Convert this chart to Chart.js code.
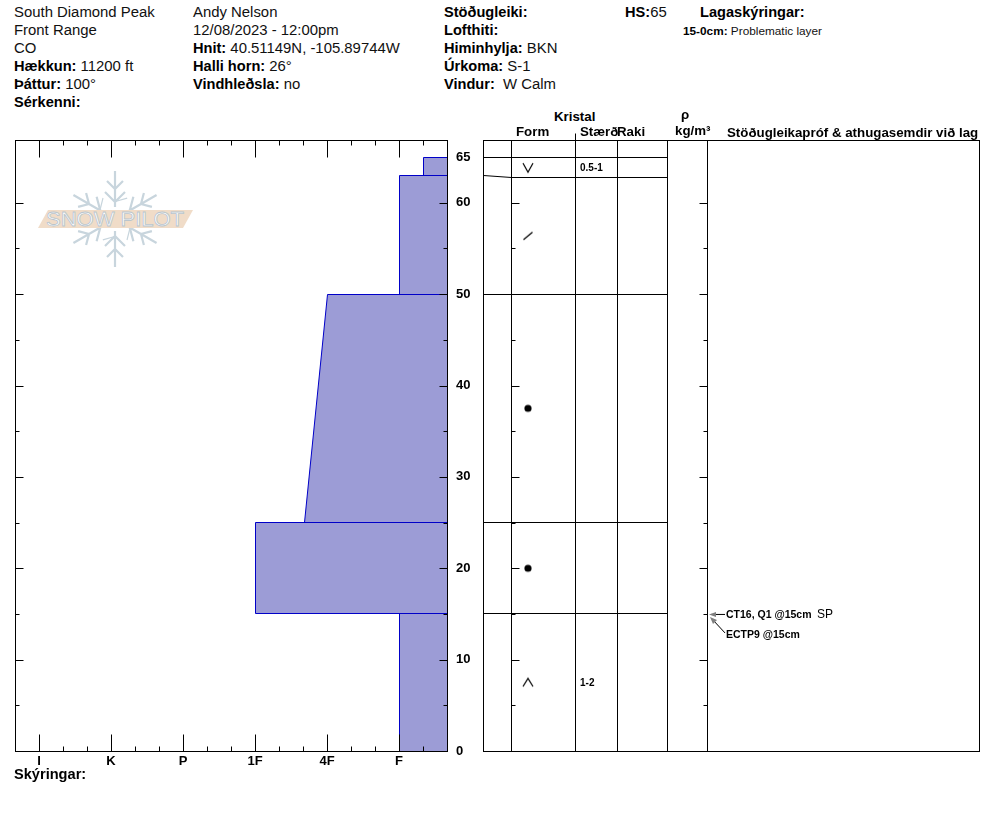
<!DOCTYPE html>
<html>
<head>
<meta charset="utf-8">
<title>Snow Pilot</title>
<script src="https://cdn.jsdelivr.net/npm/chart.js@4"></script>
<style>
  html, body { margin: 0; padding: 0; background: #fff; }
  #page { position: relative; width: 994px; height: 840px; overflow: hidden; font-family: "Liberation Sans", Arial, sans-serif; color: #111; }
  .t { position: absolute; white-space: nowrap; font-size: 14.9px; line-height: 18px; }
  .t b { color: #000; font-size: 14.6px; }
  .h { font-size: 13.3px; font-weight: bold; line-height: 14px; color: #000; }
  .t.s { font-size: 11.8px; line-height: 12px; }
  .t.s b { font-size: 11.8px; }
  canvas { position: absolute; }
  #logo { position: absolute; left: 30px; top: 165px; }
</style>
</head>
<body>
<div id="page">
  <svg id="logo" width="175" height="110" viewBox="30 165 175 110">
    <g id="flake" stroke="#c8d5dd" stroke-width="2.2" fill="none"></g>
    <polygon points="38,228 48,210 193,210 183,228" fill="#f0dcc8"/>
    <text x="46" y="226" font-family="Liberation Sans" font-size="20" textLength="138" lengthAdjust="spacingAndGlyphs" fill="#ffffff" stroke="#b9c5cd" stroke-width="0.8">SNOW PILOT</text>
  </svg>
  <canvas id="profil" width="480" height="650" style="left:0;top:130px;width:480px;height:650px"></canvas>
  <canvas id="lag" width="515" height="650" style="left:474px;top:130px;width:515px;height:650px"></canvas>
  <div id="texts"></div>
</div>

<script>
// lagaskipting, neðan frá og upp
const layerBottom = [0, 15, 25, 50, 63];
const layerTop = [15, 25, 50, 63, 65];
const hardnessAtBottom = [5, 3, 3.68, 5, 5.33];
const hardnessAtTop = [5, 3, 4, 5, 5.33];
const grainForm = ["hat", "dot", "dot", "slash", "vee"];
const grainSize = ["1-2", "", "", "", "0.5-1"];
// efri mörk laga eins og þau eru teiknuð í töflunni
const drawnTop = [15, 25, 50, 62.8, 65];

const hardnessLabels = ["I", "K", "P", "1F", "4F", "F"];
const depthLabels = [0, 10, 20, 30, 40, 50, 60, 65];
const depthTicks = [5, 10, 15, 20, 25, 30, 35, 40, 45, 50, 55, 60];
const depthMax = 66.87;

const headerLines = [
  [14, 3, "South Diamond Peak"], [14, 21, "Front Range"], [14, 39, "CO"],
  [14, 57, "<b>Hækkun:</b> 11200 ft"], [14, 75, "<b>Þáttur:</b> 100°"], [14, 93, "<b>Sérkenni:</b>"],
  [193, 3, "Andy Nelson"], [193, 21, "12/08/2023 - 12:00pm"], [193, 39, "<b>Hnit:</b> 40.51149N, -105.89744W"],
  [193, 57, "<b>Halli horn:</b> 26°"], [193, 75, "<b>Vindhleðsla:</b> no"],
  [444, 3, "<b>Stöðugleiki:</b>"], [444, 21, "<b>Lofthiti:</b>"], [444, 39, "<b>Himinhylja:</b> BKN"],
  [444, 57, "<b>Úrkoma:</b> S-1"], [444, 75, "<b>Vindur:</b>&nbsp; W Calm"],
  [625, 3, "<b>HS:</b>65"], [700, 3, "<b>Lagaskýringar:</b>"], [14, 765, "<b>Skýringar:</b>"]
];
const columnHeads = [
  [554, 110, "Kristal"], [516, 125, "Form"], [580, 125, "Stærð"], [617, 125, "Raki"],
  [681, 108, "ρ"], [675, 124, "kg/m³"], [727, 126, "Stöðugleikapróf &amp; athugasemdir við lag"]
];

const textBox = document.getElementById("texts");
function addText(cls, x, y, html) {
  const d = document.createElement("div");
  d.className = cls;
  d.style.left = x + "px";
  d.style.top = y + "px";
  d.innerHTML = html;
  textBox.appendChild(d);
}
headerLines.forEach(l => addText("t", l[0], l[1], l[2]));
columnHeads.forEach(l => addText("t h", l[0], l[1], l[2]));
addText("t s", 683, 25, "<b>15-0cm:</b> Problematic layer");

// snjókornið í merkinu
const flake = document.getElementById("flake");
for (let a = 0; a < 360; a += 60) {
  flake.innerHTML += '<g transform="rotate(' + a + ' 115 219)">' +
    '<path d="M115 207V171M107 181L115 189L123 181M105 192L115 202L125 192"/>' +
    '<path d="M103 198L100 210" stroke-width="1.2"/></g>';
}

const black = "#000";

// línur eiga að lenda á heilum punktum, annars verða þær gráar
const snapLines = {
  id: "snapLines",
  afterDatasetsUpdate(chart) {
    chart.data.datasets.forEach((ds, i) => {
      if (!ds.showLine) return;
      chart.getDatasetMeta(i).data.forEach(p => {
        p.y = Math.floor(p.y) + 0.5;
        p.x = Math.round(p.x) + 0.5;
      });
    });
  }
};

// innri merki á ramma, sama á báðum myndum
function inTicks(ctx, x, y, dx, dy) {
  ctx.beginPath();
  ctx.moveTo(x, y);
  ctx.lineTo(x + dx, y + dy);
  ctx.stroke();
}
function tickLen(depth) {
  return depth % 10 === 0 ? 8 : 4;
}

const profileFrame = {
  id: "profileFrame",
  afterDatasetsDraw(chart) {
    const { ctx, chartArea: a, scales: { x, y } } = chart;
    ctx.save();
    ctx.strokeStyle = black;
    ctx.lineWidth = 1;
    ctx.translate(0.5, 0.5);
    ctx.strokeRect(a.left, a.top, a.right - a.left, a.bottom - a.top);
    depthTicks.forEach(d => {
      const py = Math.round(y.getPixelForValue(d));
      inTicks(ctx, a.left, py, tickLen(d), 0);
      inTicks(ctx, a.right, py, -tickLen(d), 0);
    });
    for (let i = 0; i <= 16; i++) {
      const v = i / 3;
      const px = Math.round(x.getPixelForValue(v));
      const len = i % 3 === 0 ? 17 : 5;
      inTicks(ctx, px, a.bottom, 0, -len);
      inTicks(ctx, px, a.top, 0, len);
    }
    // þykkari neðri og vinstri lína
    ctx.beginPath();
    ctx.moveTo(a.left, a.top);
    ctx.lineTo(a.left, a.bottom);
    ctx.lineTo(a.right, a.bottom);
    ctx.stroke();
    ctx.restore();
  }
};

const hardEdge = 5 + 2 / 3;
const outline = [];
layerBottom.forEach((b, i) => {
  outline.push({ x: hardEdge, y: b });
  outline.push({ x: hardnessAtBottom[i], y: b });
  outline.push({ x: hardnessAtTop[i], y: layerTop[i] });
  outline.push({ x: hardEdge, y: layerTop[i] });
});

new Chart(document.getElementById("profil"), {
  type: "scatter",
  data: {
    datasets: [{
      data: outline,
      showLine: true,
      fill: "shape",
      backgroundColor: "#9c9cd6",
      borderColor: "#0000c8",
      borderWidth: 1,
      tension: 0,
      pointRadius: 0
    }]
  },
  options: {
    responsive: false,
    animation: false,
    layout: { padding: { left: 15, top: 10, right: 0, bottom: 0 } },
    plugins: { legend: { display: false }, tooltip: { enabled: false } },
    scales: {
      x: {
        type: "linear",
        min: -1 / 3,
        max: hardEdge,
        border: { display: false },
        grid: { display: false, drawTicks: false },
        afterBuildTicks(s) { s.ticks = hardnessLabels.map((l, i) => ({ value: i })); },
        afterFit(s) {
          s.height = 29;
          s.paddingLeft = 0;
          s.paddingRight = 0;
        },
        ticks: {
          autoSkip: false,
          maxRotation: 0,
          padding: 3,
          color: black,
          font: { family: "Liberation Sans", size: 13, weight: "bold" },
          callback: (v) => hardnessLabels[v]
        }
      },
      y: {
        position: "right",
        min: 0,
        max: depthMax,
        border: { display: false },
        grid: { display: false, drawTicks: false },
        afterBuildTicks(s) { s.ticks = depthLabels.map(v => ({ value: v })); },
        afterFit(s) {
          s.width = 33;
          s.paddingTop = 0;
          s.paddingBottom = 0;
        },
        ticks: {
          autoSkip: false,
          padding: 9,
          color: black,
          font: { family: "Liberation Sans", size: 13, weight: "bold" },
          callback: (v) => String(v)
        }
      }
    }
  },
  plugins: [snapLines, profileFrame]
});

// kornalögun
function glyph(kind) {
  const c = document.createElement("canvas");
  c.width = 16;
  c.height = 16;
  const g = c.getContext("2d");
  g.strokeStyle = black;
  g.fillStyle = black;
  g.lineWidth = 1.2;
  g.beginPath();
  if (kind === "dot") {
    g.arc(8, 8, 3.6, 0, Math.PI * 2);
    g.fill();
    return c;
  }
  if (kind === "hat") { g.moveTo(3, 12); g.lineTo(8, 4); g.lineTo(13, 12); }
  if (kind === "vee") { g.moveTo(3, 4); g.lineTo(8, 13); g.lineTo(13, 4); }
  if (kind === "slash") { g.moveTo(3.5, 12); g.lineTo(12.5, 4.5); }
  g.stroke();
  return c;
}

// x-ásinn er mældur frá vinstri brún töflunnar
const columnEdges = [28, 92, 134, 184, 224];
const ruleEnd = 184;
const formX = 45;
const sizeX = 97;

const mid = (i, tops) => ((i === 0 ? 0 : tops[i - 1]) + tops[i]) / 2;

const ruleSets = layerTop.map((d, i) => ({
  data: [{ x: 0, y: d }, { x: 28, y: drawnTop[i] }, { x: ruleEnd, y: drawnTop[i] }],
  showLine: true,
  borderColor: black,
  borderWidth: 1,
  tension: 0,
  pointRadius: 0
}));

const tableFrame = {
  id: "tableFrame",
  afterDatasetsDraw(chart) {
    const { ctx, chartArea: a, scales: { x, y } } = chart;
    ctx.save();
    ctx.strokeStyle = black;
    ctx.lineWidth = 1;
    ctx.translate(0.5, 0.5);
    ctx.strokeRect(a.left, a.top, a.right - a.left, a.bottom - a.top);
    columnEdges.forEach(e => {
      const px = Math.round(x.getPixelForValue(e));
      inTicks(ctx, px, a.top, 0, a.bottom - a.top);
    });
    const tickLeft = Math.round(x.getPixelForValue(columnEdges[0]));
    const tickRight = Math.round(x.getPixelForValue(columnEdges[4]));
    depthTicks.forEach(d => {
      const py = Math.round(y.getPixelForValue(d));
      inTicks(ctx, tickLeft, py, tickLen(d), 0);
      inTicks(ctx, tickRight, py, -tickLen(d), 0);
    });
    const topTick = Math.round(x.getPixelForValue(columnEdges[1]));
    inTicks(ctx, topTick, a.top, 0, -7);
    ctx.restore();

    // kornastærð
    ctx.save();
    ctx.fillStyle = black;
    ctx.font = "bold 10px 'Liberation Sans'";
    ctx.textBaseline = "middle";
    grainSize.forEach((s, i) => {
      if (s) ctx.fillText(s, x.getPixelForValue(sizeX), y.getPixelForValue(mid(i, drawnTop)) + 1);
    });

    // prófanir við 15 cm
    const py = y.getPixelForValue(15);
    const px = x.getPixelForValue(224);
    ctx.font = "bold 10.5px 'Liberation Sans'";
    ctx.fillText("CT16, Q1 @15cm", px + 19, py + 1);
    ctx.fillText("ECTP9 @15cm", px + 19, py + 21);
    ctx.font = "12px 'Liberation Sans'";
    ctx.fillText("SP", px + 110, py + 1);
    ctx.strokeStyle = black;
    ctx.beginPath();
    ctx.moveTo(px + 18, py + 0.5);
    ctx.lineTo(px + 4, py + 0.5);
    ctx.moveTo(px + 18, py + 19);
    ctx.lineTo(px + 5, py + 5);
    ctx.stroke();
    ctx.fillStyle = "#808080";
    ctx.beginPath();
    ctx.moveTo(px + 2, py + 0.5);
    ctx.lineTo(px + 9, py - 2);
    ctx.lineTo(px + 9, py + 3);
    ctx.closePath();
    ctx.moveTo(px + 3, py + 3);
    ctx.lineTo(px + 10, py + 6);
    ctx.lineTo(px + 6, py + 10);
    ctx.closePath();
    ctx.fill();
    ctx.restore();
  }
};

new Chart(document.getElementById("lag"), {
  type: "scatter",
  data: {
    datasets: ruleSets.concat([{
      data: grainForm.map((f, i) => ({ x: formX, y: mid(i, drawnTop) })),
      pointStyle: grainForm.map(glyph),
      pointRadius: 8,
      showLine: false
    }])
  },
  options: {
    responsive: false,
    animation: false,
    layout: { padding: { left: 9, top: 10, right: 10, bottom: 29 } },
    plugins: { legend: { display: false }, tooltip: { enabled: false } },
    scales: {
      x: { type: "linear", display: false, min: 0, max: 496 },
      y: { display: false, min: 0, max: depthMax }
    }
  },
  plugins: [snapLines, tableFrame]
});
</script>
</body>
</html>
